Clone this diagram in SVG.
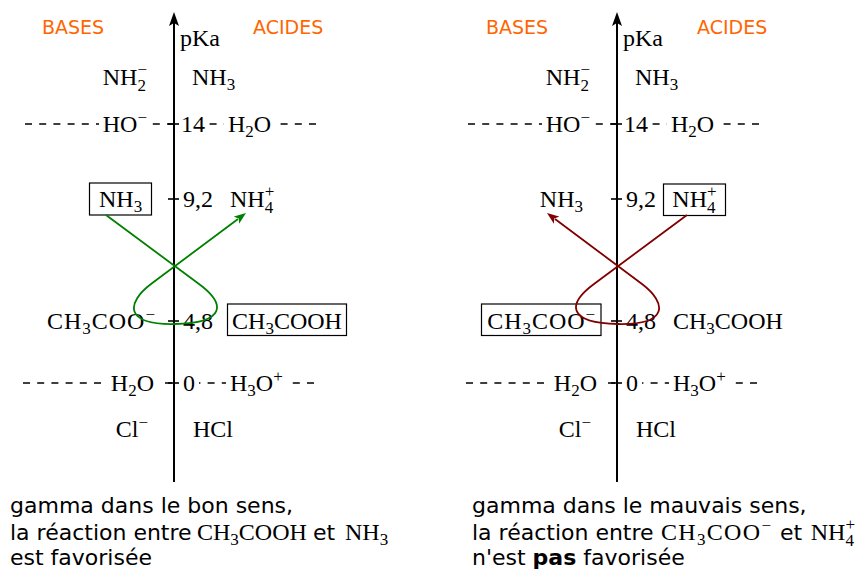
<svg xmlns="http://www.w3.org/2000/svg" width="856" height="571" viewBox="0 0 856 571">
<defs>
<style>
.m{font-family:"Liberation Serif","Times New Roman",serif;font-size:24px;fill:#000}
.s{font-size:17px}
.t{font-family:"DejaVu Sans","Liberation Sans",sans-serif;font-size:22px;fill:#000}
.o{font-family:"DejaVu Sans","Liberation Sans",sans-serif;font-size:19px;fill:#ff6600}
.dash{stroke:#000;stroke-width:1.6;stroke-dasharray:7 7.2;fill:none}
.axis{stroke:#000;stroke-width:2;fill:none}
.tick{stroke:#000;stroke-width:1.6}
.bg{fill:#fff}
.box{fill:none;stroke:#000;stroke-width:1.2}
.g{stroke:#008000;stroke-width:1.8;fill:none}
.r{stroke:#800000;stroke-width:1.8;fill:none}
</style>
<marker id="ag" viewBox="0 0 12 10" refX="2" refY="5" markerWidth="12" markerHeight="10" markerUnits="userSpaceOnUse" orient="auto"><path d="M0,0.5 L12,5 L0,9.5 L3,5 Z" fill="#008000"/></marker>
<marker id="ar" viewBox="0 0 12 10" refX="2" refY="5" markerWidth="12" markerHeight="10" markerUnits="userSpaceOnUse" orient="auto"><path d="M0,0.5 L12,5 L0,9.5 L3,5 Z" fill="#800000"/></marker>
<g id="scale">
<line class="dash" x1="25" y1="124" x2="320" y2="124"/>
<line class="dash" x1="23" y1="383" x2="318" y2="383"/>
<rect class="bg" x="99" y="113" width="50" height="23"/>
<rect class="bg" x="179" y="113" width="27" height="23"/>
<rect class="bg" x="224" y="113" width="51" height="23"/>
<rect class="bg" x="107" y="372" width="51" height="23"/>
<rect class="bg" x="179" y="372" width="20" height="23"/>
<rect class="bg" x="226" y="372" width="61" height="23"/>
<line class="axis" x1="174" y1="482" x2="174" y2="20"/>
<path d="M174,12 L179,26 L174,23 L169,26 Z" fill="#000"/>
<line class="tick" x1="168" y1="124" x2="179" y2="124"/>
<line class="tick" x1="168" y1="199" x2="179" y2="199"/>
<line class="tick" x1="168" y1="321" x2="179" y2="321"/>
<line class="tick" x1="168" y1="383" x2="179" y2="383"/>
</g>
</defs>

<g id="left">
<use href="#scale"/>
<g id="l-bases"><text class="o" x="42" y="34">BASES</text></g>
<g id="l-acides"><text class="o" x="253" y="34">ACIDES</text></g>
<g id="l-pka"><text class="m" x="180" y="46">pKa</text></g>
<g id="l-nh2"><text class="m" x="147" y="85" text-anchor="end">NH<tspan class="s" dy="6">2</tspan><tspan class="s" dx="-8.5" dy="-16">−</tspan></text></g>
<g id="l-nh3-top"><text class="m" x="192" y="85">NH<tspan class="s" dy="5">3</tspan></text></g>
<g id="l-ho"><text class="m" x="147" y="132" text-anchor="end">HO<tspan class="s" dy="-9">−</tspan></text></g>
<g id="l-14"><text class="m" x="181" y="132">14</text></g>
<g id="l-h2o-top"><text class="m" x="228" y="132">H<tspan class="s" dy="5">2</tspan><tspan dy="-5">O</tspan></text></g>
<g id="l-nh3"><rect class="box" x="89.5" y="183" width="62" height="32"/><text class="m" x="120.6" y="207" text-anchor="middle">NH<tspan class="s" dy="5">3</tspan></text></g>
<g id="l-92"><text class="m" x="183" y="207">9,2</text></g>
<g id="l-nh4"><text class="m" x="230" y="207">NH<tspan class="s" dy="6">4</tspan><tspan class="s" dx="-8.5" dy="-16">+</tspan></text></g>
<g id="l-ch3coo"><text class="m" x="155" y="329" text-anchor="end" textLength="108" lengthAdjust="spacing">CH<tspan class="s" dy="5">3</tspan><tspan dy="-5">COO</tspan><tspan class="s" dy="-9">−</tspan></text></g>
<g id="l-48"><text class="m" x="183" y="329">4,8</text></g>
<g id="l-ch3cooh"><rect class="box" x="227.5" y="304" width="119" height="31.5"/><text class="m" x="287" y="329" text-anchor="middle">CH<tspan class="s" dy="5">3</tspan><tspan dy="-5">COOH</tspan></text></g>
<g id="l-h2o"><text class="m" x="154" y="391" text-anchor="end">H<tspan class="s" dy="5">2</tspan><tspan dy="-5">O</tspan></text></g>
<g id="l-0"><text class="m" x="183" y="391">0</text></g>
<g id="l-h3o"><text class="m" x="230" y="391">H<tspan class="s" dy="5">3</tspan><tspan dy="-5">O</tspan><tspan class="s" dy="-9">+</tspan></text></g>
<g id="l-cl"><text class="m" x="148" y="437" text-anchor="end">Cl<tspan class="s" dy="-9">−</tspan></text></g>
<g id="l-hcl"><text class="m" x="193" y="437">HCl</text></g>
<g id="l-caption">
<text class="t" x="10" y="513">gamma dans le bon sens,</text>
<text class="t" x="10" y="540">la réaction entre</text>
<text class="m" x="197" y="540">CH<tspan class="s" dy="5">3</tspan><tspan dy="-5">COOH</tspan></text>
<text class="t" x="313" y="540">et</text>
<text class="m" x="345" y="540">NH<tspan class="s" dy="5">3</tspan></text>
<text class="t" x="10" y="565">est favorisée</text>
</g>
</g>

<g id="right">
<use href="#scale" x="443"/>
<g id="r-bases"><text class="o" x="486" y="34">BASES</text></g>
<g id="r-acides"><text class="o" x="697" y="34">ACIDES</text></g>
<g id="r-pka"><text class="m" x="623" y="46">pKa</text></g>
<g id="r-nh2"><text class="m" x="590" y="85" text-anchor="end">NH<tspan class="s" dy="6">2</tspan><tspan class="s" dx="-8.5" dy="-16">−</tspan></text></g>
<g id="r-nh3-top"><text class="m" x="635" y="85">NH<tspan class="s" dy="5">3</tspan></text></g>
<g id="r-ho"><text class="m" x="590" y="132" text-anchor="end">HO<tspan class="s" dy="-9">−</tspan></text></g>
<g id="r-14"><text class="m" x="624" y="132">14</text></g>
<g id="r-h2o-top"><text class="m" x="671" y="132">H<tspan class="s" dy="5">2</tspan><tspan dy="-5">O</tspan></text></g>
<g id="r-nh3"><text class="m" x="583" y="207" text-anchor="end">NH<tspan class="s" dy="5">3</tspan></text></g>
<g id="r-92"><text class="m" x="626" y="207">9,2</text></g>
<g id="r-nh4"><rect class="box" x="663.5" y="184" width="62" height="31.5"/><text class="m" x="694.5" y="207" text-anchor="middle">NH<tspan class="s" dy="6">4</tspan><tspan class="s" dx="-8.5" dy="-16">+</tspan></text></g>
<g id="r-ch3coo"><rect class="box" x="481.5" y="304" width="119.5" height="31.5"/><text class="m" x="541.2" y="329" text-anchor="middle" textLength="108" lengthAdjust="spacing">CH<tspan class="s" dy="5">3</tspan><tspan dy="-5">COO</tspan><tspan class="s" dy="-9">−</tspan></text></g>
<g id="r-48"><text class="m" x="626" y="329">4,8</text></g>
<g id="r-ch3cooh"><text class="m" x="673" y="329">CH<tspan class="s" dy="5">3</tspan><tspan dy="-5">COOH</tspan></text></g>
<g id="r-h2o"><text class="m" x="597" y="391" text-anchor="end">H<tspan class="s" dy="5">2</tspan><tspan dy="-5">O</tspan></text></g>
<g id="r-0"><text class="m" x="626" y="391">0</text></g>
<g id="r-h3o"><text class="m" x="673" y="391">H<tspan class="s" dy="5">3</tspan><tspan dy="-5">O</tspan><tspan class="s" dy="-9">+</tspan></text></g>
<g id="r-cl"><text class="m" x="591" y="437" text-anchor="end">Cl<tspan class="s" dy="-9">−</tspan></text></g>
<g id="r-hcl"><text class="m" x="636" y="437">HCl</text></g>
<g id="r-caption">
<text class="t" x="472" y="513">gamma dans le mauvais sens,</text>
<text class="t" x="472" y="540">la réaction entre</text>
<text class="m" x="661" y="540" textLength="110" lengthAdjust="spacing">CH<tspan class="s" dy="5">3</tspan><tspan dy="-5">COO</tspan><tspan class="s" dy="-9">−</tspan></text>
<text class="t" x="780" y="540">et</text>
<text class="m" x="855" y="540" text-anchor="end">NH<tspan class="s" dy="6">4</tspan><tspan class="s" dx="-8.5" dy="-16">+</tspan></text>
<text class="t" x="472" y="565">n'est <tspan font-weight="bold">pas</tspan> favorisée</text>
</g>
</g>

<g id="connectors">
<path class="g" d="M106,215 L199,284 C226,304 226,323 175,324 C124,325 126,303 151,284 L238,219" marker-end="url(#ag)"/>
<path class="r" d="M687,215 L594,284 C567,304 567,323 618,324 C669,325 667,303 642,284 L555,219" marker-end="url(#ar)"/>
</g>
</svg>
